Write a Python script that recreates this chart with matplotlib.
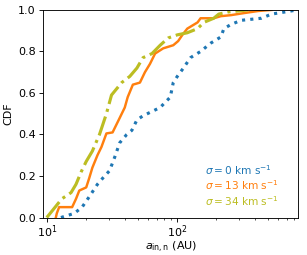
import matplotlib
matplotlib.use("Agg")
import matplotlib.pyplot as plt

# CDF curves (semi-major axis in AU, cumulative fraction)
a_sig0 = [12.7, 16.1, 18.5, 21.0, 24.3, 27.6, 30.1, 33.0, 36.1, 40.9, 44.8, 49.0,
          54.6, 74.1, 88.7, 93.5, 100.5, 112, 127, 152, 182, 218, 230, 261, 312,
          448, 536, 677, 850]
cdf_sig0 = [0.0, 0.02, 0.05, 0.1, 0.16, 0.2, 0.225, 0.29, 0.36, 0.4, 0.42, 0.47,
            0.49, 0.53, 0.58, 0.65, 0.68, 0.72, 0.77, 0.8, 0.84, 0.87, 0.91, 0.93,
            0.95, 0.96, 0.98, 0.99, 1.0]

a_sig13 = [11.6, 11.8, 12.3, 15.5, 16.6, 17.6, 19.9, 21.0, 22.2, 24.3, 26.1, 28.5,
           31.8, 36.1, 39.5, 41.6, 45.6, 51.7, 56.5, 61.8, 67.7, 78.2, 93.5, 102,
           110, 120, 144, 152, 192, 218, 261, 330, 424, 536]
cdf_sig13 = [0.0, 0.02, 0.05, 0.05, 0.09, 0.13, 0.145, 0.19, 0.24, 0.3, 0.34, 0.405,
             0.41, 0.48, 0.53, 0.58, 0.64, 0.65, 0.7, 0.74, 0.79, 0.815, 0.83, 0.85,
             0.88, 0.91, 0.94, 0.96, 0.96, 0.97, 0.975, 0.985, 0.995, 1.0]

a_sig34 = [9.87, 10.8, 12.9, 15.2, 16.6, 18.2, 19.9, 22.2, 25.2, 28.5, 31.2, 37.4,
           43.2, 49.0, 54.6, 64.1, 74.1, 85.5, 100.5, 120, 144, 161, 192, 210, 247, 354]
cdf_sig34 = [0.0, 0.03, 0.09, 0.12, 0.16, 0.22, 0.27, 0.32, 0.4, 0.5, 0.59, 0.65,
             0.68, 0.72, 0.77, 0.79, 0.83, 0.865, 0.88, 0.89, 0.91, 0.94, 0.96, 0.98,
             0.99, 1.0]

labels = [r"$\sigma = 0$ km s$^{-1}$", r"$\sigma = 13$ km s$^{-1}$",
          r"$\sigma = 34$ km s$^{-1}$"]
colors = ["tab:blue", "tab:orange", "tab:olive"]

fig = plt.figure(figsize=(3.8375, 3.1875), dpi=80)
ax = fig.add_axes([0.141, 0.147, 0.830, 0.814])

ax.plot(a_sig0, cdf_sig0, ls=":", lw=2.8, color=colors[0])
ax.plot(a_sig13, cdf_sig13, ls="-", lw=2.2, color=colors[1])
ax.plot(a_sig34, cdf_sig34, ls="-.", lw=2.8, color=colors[2])

ax.set_xscale("log")
ax.set_xlim(9.28, 860)
ax.set_ylim(0, 1)
ax.set_yticks([0.0, 0.2, 0.4, 0.6, 0.8, 1.0])
ax.tick_params(axis="x", which="major", pad=1.5)
ax.set_xlabel(r"$a_{\rm in,n}$ (AU)", labelpad=0)
ax.set_ylabel("CDF")

for i, (lab, c) in enumerate(zip(labels, colors)):
    ax.text(0.635, 0.229 - 0.075 * i, lab, color=c, fontsize=9.5,
            transform=ax.transAxes, va="center", ha="left")

fig.savefig("out.png", dpi=80)
